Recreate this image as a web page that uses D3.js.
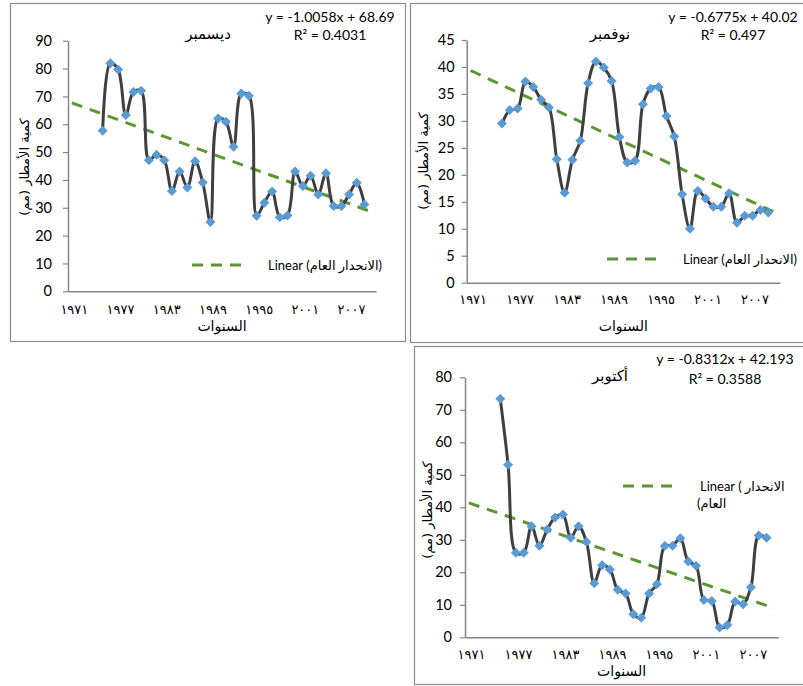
<!DOCTYPE html>
<html>
<head>
<meta charset="utf-8">
<script src="https://cdn.jsdelivr.net/npm/d3@7"></script>
<style>
  body { margin: 0; background: #fff; }
  svg { display: block; }
  text { font-family: "Lato", "DejaVu Sans", sans-serif; fill: #000; }
  .ar { font-family: "DejaVu Sans", sans-serif; }
</style>
</head>
<body>
<svg id="chart" width="803" height="686"></svg>
<script>
// Category axis: one slot per year
const years = [1971, 1972, 1973, 1974, 1975, 1976, 1977, 1978, 1979, 1980,
               1981, 1982, 1983, 1984, 1985, 1986, 1987, 1988, 1989, 1990,
               1991, 1992, 1993, 1994, 1995, 1996, 1997, 1998, 1999, 2000,
               2001, 2002, 2003, 2004, 2005, 2006, 2007, 2008, 2009, 2010];

// Monthly rainfall (mm), 1975–2009
const decRain = [null, null, null, null,
  57.7, 81.9, 79.7, 63.3, 71.6, 72.0, 47.1, 49.0, 47.1, 36.0,
  43.0, 37.3, 46.7, 39.1, 24.9, 62.1, 60.9, 51.9, 71.0, 70.2,
  27.1, 31.8, 35.8, 26.6, 27.2, 43.0, 37.8, 41.5, 34.8, 42.4,
  30.6, 30.6, 34.8, 39.0, 31.2, null];
const novRain = [null, null, null, null,
  29.5, 32.0, 32.3, 37.3, 36.3, 33.9, 32.5, 22.9, 16.7, 22.8,
  26.3, 37.0, 41.0, 39.9, 37.4, 27.0, 22.3, 22.6, 33.1, 36.0,
  36.3, 30.9, 27.1, 16.4, 10.0, 17.0, 15.6, 14.1, 14.1, 16.6,
  11.1, 12.4, 12.4, 13.5, 13.0, null];
const octRain = [null, null, null, null,
  73.4, 53.1, 26.0, 26.0, 34.2, 28.2, 33.2, 36.9, 37.8, 30.6,
  34.2, 29.4, 16.6, 22.2, 20.9, 14.6, 13.5, 7.1, 6.0, 13.5,
  16.3, 28.1, 28.2, 30.5, 23.3, 22.0, 11.5, 11.2, 3.0, 3.8,
  11.0, 10.2, 15.4, 31.3, 30.6, null];

// Linear trend fits: y = slope * x + intercept, x = category number (1..40)
const trendSlopes     = [-1.0058, -0.6775, -0.8312];
const trendIntercepts = [68.69, 40.02, 42.193];
const trendR2Labels   = ["0.4031", "0.497", "0.3588"];

const monthTitles = ["ديسمبر", "نوفمبر", "أكتوبر"];
const yMaxValues  = [90, 45, 80];
const yTickSteps  = [10, 5, 10];

const xTickYears  = [1971, 1977, 1983, 1989, 1995, 2001, 2007];
const xTickLabels = ["١٩٧١", "١٩٧٧", "١٩٨٣", "١٩٨٩", "١٩٩٥", "٢٠٠١", "٢٠٠٧"];

const yAxisTitle = "كمية الأمطار (مم)";
const xAxisTitle = "السنوات";

const svg = d3.select("#chart");

// Layout for each panel
const panels = [
  { values: decRain, frame: [10, 3, 395, 338], plot: { x0: 68, x1: 376, top: 40.7, bottom: 291.3 },
    tickRight: 16, yTitle: [24, 167], xLabelY: 314, xTitleY: 331,
    title: [208, 39], eq: [330, 22, 40],
    legend: { x0: 192, x1: 248, y: 265, tx: 268, lines: ["Linear (الانحدار العام)"] } },
  { values: novRain, frame: [410, 3, 400, 339], plot: { x0: 466.7, x1: 780, top: 40, bottom: 282.7 },
    tickRight: 12, yTitle: [423, 161], xLabelY: 304, xTitleY: 331,
    title: [610, 39], eq: [733, 22, 40],
    legend: { x0: 607, x1: 663, y: 259, tx: 683, lines: ["Linear (الانحدار العام)"] } },
  { values: octRain, frame: [414, 346, 400, 338], plot: { x0: 465, x1: 778.3, top: 377.3, bottom: 637.3 },
    tickRight: 13, yTitle: [427, 510], xLabelY: 659, xTitleY: 676,
    title: [610, 381], eq: [725, 364, 384],
    legend: { x0: 623, x1: 680, y: 486, tx: 700, lines: ["Linear ( الانحدار", "(العام"] } }
];

const lineColor = "#3F3F3F";
const markerColor = "#5B9BD5";
const trendColor = "#5B9632";
const axisColor = "#868686";

panels.forEach((p, k) => {
  const g = svg.append("g");
  const [fx, fy, fw, fh] = p.frame;
  g.append("rect").attr("x", fx + 0.5).attr("y", fy + 0.5).attr("width", fw).attr("height", fh)
    .attr("fill", "#fff").attr("stroke", "#8C8C8C").attr("stroke-width", 1.2);

  const x = d3.scaleBand().domain(years).range([p.plot.x0, p.plot.x1]);
  const cx = yr => x(yr) + x.bandwidth() / 2;
  const yMax = yMaxValues[k];
  const y = d3.scaleLinear().domain([0, yMax]).range([p.plot.bottom, p.plot.top]);

  // Y axis
  const yTicks = d3.range(0, yMax + 0.001, yTickSteps[k]);
  const yAxis = g.append("g").attr("transform", `translate(${p.plot.x0},0)`)
    .call(d3.axisLeft(y).tickValues(yTicks).tickSize(5).tickSizeOuter(0).tickPadding(p.tickRight - 5));
  yAxis.selectAll(".domain").attr("stroke", axisColor).attr("stroke-width", 1.5);
  yAxis.selectAll(".tick line").attr("stroke", axisColor).attr("stroke-width", 1.2);
  yAxis.selectAll(".tick text").style("font-size", "14.5px").style("font-family", "Lato, sans-serif").attr("fill", "#000");

  // X axis (category labels every six years)
  const xAxis = g.append("g").attr("transform", `translate(0,${p.plot.bottom})`)
    .call(d3.axisBottom(x).tickValues(xTickYears).tickSize(0).tickSizeOuter(0)
      .tickFormat(yr => xTickLabels[xTickYears.indexOf(yr)]));
  xAxis.selectAll(".domain").attr("stroke", axisColor).attr("stroke-width", 1.5);
  xAxis.selectAll(".tick text")
    .attr("y", p.xLabelY - p.plot.bottom).attr("dy", 0).attr("dx", 2.5)
    .attr("class", "ar").style("font-size", "13px").style("letter-spacing", "5px")
    .style("font-family", "DejaVu Sans, sans-serif").attr("fill", "#000");

  // Axis titles
  g.append("text").attr("class", "ar")
    .attr("transform", `translate(${p.yTitle[0]},${p.yTitle[1]}) rotate(-90)`)
    .attr("text-anchor", "middle").attr("dy", "0.35em").style("font-size", "13px")
    .text(yAxisTitle);
  g.append("text").attr("class", "ar").attr("x", (p.plot.x0 + p.plot.x1) / 2)
    .attr("y", p.xTitleY).attr("text-anchor", "middle").style("font-size", "14px")
    .text(xAxisTitle);

  // Trend line from the fitted equation
  const first = 1, last = years.length;
  const trendPts = [first, last].map(n => [cx(years[n - 1]), y(trendSlopes[k] * n + trendIntercepts[k])]);
  g.append("path").attr("d", d3.line()(trendPts))
    .attr("fill", "none").attr("stroke", trendColor).attr("stroke-width", 3)
    .attr("stroke-dasharray", "11,8");

  // Smoothed rainfall line
  const pts = years.map((yr, i) => ({ yr, v: p.values[i] })).filter(d => d.v != null);
  g.append("path")
    .attr("d", d3.line().x(d => cx(d.yr)).y(d => y(d.v)).curve(d3.curveCatmullRom.alpha(0.5))(pts))
    .attr("fill", "none").attr("stroke", lineColor).attr("stroke-width", 3);

  // Diamond markers
  g.selectAll(".pt").data(pts).join("path").attr("class", "pt")
    .attr("transform", d => `translate(${cx(d.yr)},${y(d.v)})`)
    .attr("d", "M0,-5L5,0L0,5L-5,0Z").attr("fill", markerColor);

  // Chart title
  g.append("text").attr("class", "ar").attr("x", p.title[0]).attr("y", p.title[1])
    .attr("text-anchor", "middle").style("font-size", "15px").text(monthTitles[k]);

  // Trend equation and R²
  const s = trendSlopes[k], b = trendIntercepts[k];
  g.append("text").attr("x", p.eq[0]).attr("y", p.eq[1]).attr("text-anchor", "middle")
    .style("font-size", "14px").text(`y = ${s < 0 ? "-" : ""}${Math.abs(s)}x + ${b}`);
  g.append("text").attr("x", p.eq[0]).attr("y", p.eq[2]).attr("text-anchor", "middle")
    .style("font-size", "14px").text(`R² = ${trendR2Labels[k]}`);

  // Legend
  const L = p.legend;
  g.append("line").attr("x1", L.x0).attr("x2", L.x1).attr("y1", L.y).attr("y2", L.y)
    .attr("stroke", trendColor).attr("stroke-width", 3).attr("stroke-dasharray", "11,8");
  L.lines.forEach((t, i) => {
    g.append("text").attr("x", L.tx - (i ? 3 : 0)).attr("y", L.y + i * 17).attr("dy", "0.35em")
      .attr("direction", "ltr").style("font-size", "13px").text(t);
  });
});
</script>
</body>
</html>
